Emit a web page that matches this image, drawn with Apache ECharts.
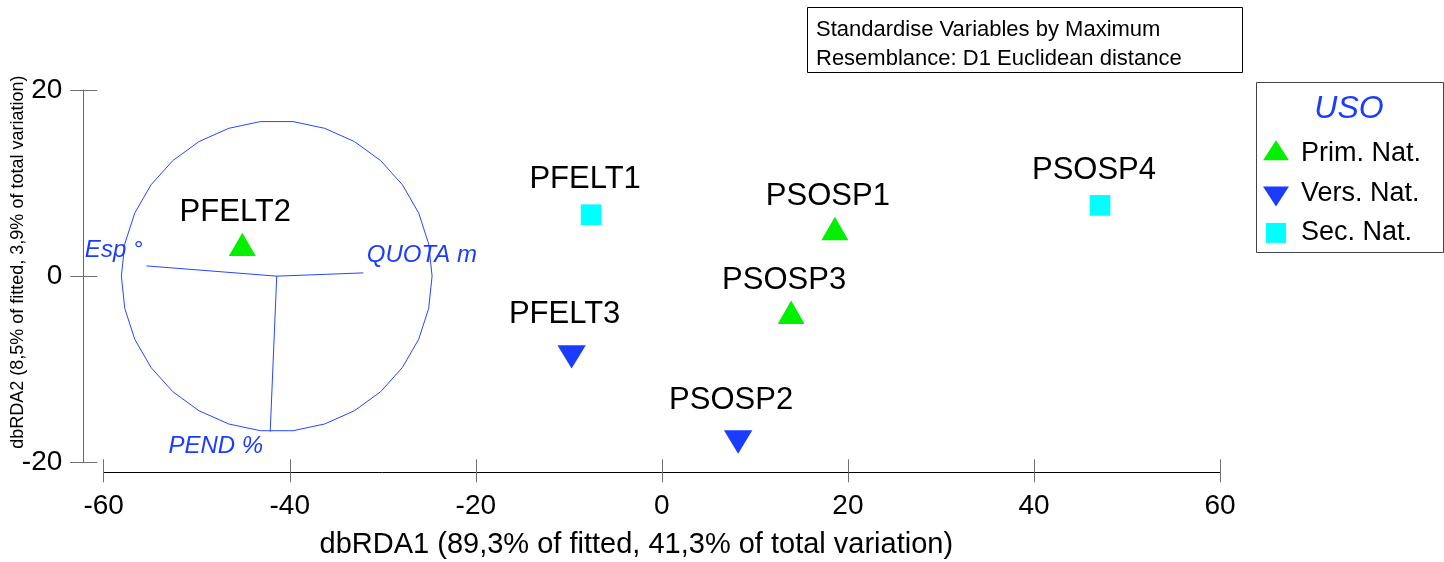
<!DOCTYPE html>
<html>
<head>
<meta charset="utf-8">
<title>dbRDA</title>
<script src="https://cdn.jsdelivr.net/npm/echarts@6/dist/echarts.min.js"></script>
<style>
  html, body { margin: 0; padding: 0; background: #ffffff; }
  #chart { width: 1444px; height: 562px; }
</style>
</head>
<body>
<div id="chart"></div>
<script>
// ---- Site scores on dbRDA1 / dbRDA2, one group per land use (USO) ----
const primNatSites = ['PFELT2', 'PSOSP1', 'PSOSP3'];
const primNatX = [-45.1, 18.6, 13.9];
const primNatY = [3.0, 4.7, -4.3];

const versNatSites = ['PFELT3', 'PSOSP2'];
const versNatX = [-9.7, 8.2];
const versNatY = [-8.25, -17.4];

const secNatSites = ['PFELT1', 'PSOSP4'];
const secNatX = [-7.6, 47.1];
const secNatY = [6.6, 7.6];

// ---- Predictor vectors (biplot), drawn from the centre of the reference circle ----
const vectorNames = ['Esp °', 'QUOTA m', 'PEND %'];
const vectorDX = [-14.0, 9.3, -0.7];
const vectorDY = [1.1, 0.35, -16.7];
const circleCenter = [-41.4, 0];
const circleRadius = 16.7;

// ---- Axes ----
const xRange = [-60, 60];
const yRange = [-20, 20];
const tickStep = 20;
const xTitle = 'dbRDA1 (89,3% of fitted, 41,3% of total variation)';
const yTitle = 'dbRDA2 (8,5% of fitted, 3,9% of total variation)';
const groupNames = ['Prim. Nat.', 'Vers. Nat.', 'Sec. Nat.'];
const legendTitle = 'USO';
const infoLines = ['Standardise Variables by Maximum', 'Resemblance: D1 Euclidean distance'];

// ---- Styling ----
const FONT = '"Liberation Sans", Arial, sans-serif';
const GREEN = '#00f000';
const BLUE = '#1a3cff';
const CYAN = '#00ffff';
const VEC_BLUE = '#2448ff';
const TICK_GREY = '#707070';

// Symbol paths padded so that the triangle centroid sits in the middle of the box
const UP_PATH = 'path://M13,0L26,20L0,20Z M0,26.67L0,26.67';
const DOWN_PATH = 'path://M0,6.67L26,6.67L13,26.67Z M0,0L0,0';
const SQUARE_PATH = 'path://M3,3.33h20v20h-20z M0,0L0,0 M26,26.67L26,26.67';

// Label placement for the vector names, relative to each arrow tip (pixels)
const vectorLabelLayout = [
  { dx: -4, dy: -16, align: 'right' },
  { dx: 3.5, dy: -17.5, align: 'left' },
  { dx: -7, dy: 14.5, align: 'right' }
];

function pointsOf(names, xs, ys) {
  return names.map((n, i) => ({ name: n, value: [xs[i], ys[i]] }));
}

function pointLabel(offset) {
  return {
    show: true,
    position: 'top',
    distance: 5,
    offset: offset,
    formatter: '{b}',
    color: '#000',
    fontSize: 31,
    fontFamily: FONT
  };
}

const chart = echarts.init(document.getElementById('chart'), null, { renderer: 'canvas' });

const axisTickStyle = { color: TICK_GREY, width: 1 };

const option = {
  animation: false,
  backgroundColor: '#ffffff',
  grid: {
    left: 103.7, right: 224, top: 90, bottom: 99.7,
    containLabel: false, outerBoundsMode: 'none'
  },
  xAxis: [
    {
      type: 'value', min: xRange[0], max: xRange[1], interval: tickStep,
      position: 'bottom', offset: 10,
      axisLine: { show: true, onZero: false, lineStyle: { color: '#000', width: 1 } },
      axisTick: { show: true, inside: false, length: 10, lineStyle: axisTickStyle },
      axisLabel: { color: '#000', fontSize: 28, fontFamily: FONT, margin: 20 },
      splitLine: { show: false },
      name: xTitle, nameLocation: 'middle', nameGap: 58, nameMoveOverlap: false,
      nameTextStyle: { color: '#000', fontSize: 29, fontFamily: FONT, padding: [0, 51, 0, 0] }
    },
    {
      type: 'value', min: xRange[0], max: xRange[1], interval: tickStep,
      position: 'bottom', offset: 10,
      axisLine: { show: false, onZero: false },
      axisTick: { show: true, inside: true, length: 13, lineStyle: axisTickStyle },
      axisLabel: { show: false },
      splitLine: { show: false }
    }
  ],
  yAxis: [
    {
      type: 'value', min: yRange[0], max: yRange[1], interval: tickStep,
      position: 'left', offset: 20.4,
      axisLine: { show: true, onZero: false, lineStyle: { color: '#666', width: 1 } },
      axisTick: { show: true, inside: false, length: 13, lineStyle: axisTickStyle },
      axisLabel: { color: '#000', fontSize: 28, fontFamily: FONT, margin: 21 },
      splitLine: { show: false },
      name: yTitle, nameLocation: 'middle', nameGap: 56, nameRotate: 90, nameMoveOverlap: false,
      nameTextStyle: { color: '#000', fontSize: 18, fontFamily: FONT, padding: [0, 0, 0, 28] }
    },
    {
      type: 'value', min: yRange[0], max: yRange[1], interval: tickStep,
      position: 'left', offset: 20.4,
      axisLine: { show: false, onZero: false },
      axisTick: { show: true, inside: true, length: 14, lineStyle: axisTickStyle },
      axisLabel: { show: false },
      splitLine: { show: false }
    }
  ],
  legend: {
    orient: 'vertical',
    left: 1258, top: 135, padding: 5,
    itemWidth: 26, itemHeight: 26.67, itemGap: 12.7,
    selectedMode: false,
    data: [
      { name: groupNames[0], icon: UP_PATH },
      { name: groupNames[1], icon: DOWN_PATH },
      { name: groupNames[2], icon: SQUARE_PATH }
    ],
    textStyle: { color: '#000', fontSize: 27, lineHeight: 27, fontFamily: FONT, padding: [0, 0, 0, 7] }
  },
  graphic: [
    {
      type: 'rect', silent: true,
      shape: { x: 807.5, y: 7.5, width: 435, height: 65 },
      style: { fill: '#fff', stroke: '#000', lineWidth: 1 }
    },
    {
      type: 'text', silent: true, x: 816, y: 30,
      style: { text: infoLines[0], font: '22px ' + FONT, fill: '#000', textVerticalAlign: 'middle' }
    },
    {
      type: 'text', silent: true, x: 816, y: 59,
      style: { text: infoLines[1], font: '22px ' + FONT, fill: '#000', textVerticalAlign: 'middle' }
    },
    {
      type: 'rect', silent: true, z: -1,
      shape: { x: 1256.5, y: 82.5, width: 187, height: 170 },
      style: { fill: '#fff', stroke: '#444', lineWidth: 1 }
    },
    {
      type: 'text', silent: true, x: 1349, y: 109,
      style: { text: legendTitle, font: 'italic 32px ' + FONT, fill: BLUE, textAlign: 'center', textVerticalAlign: 'middle' }
    }
  ],
  series: [
    {
      // reference circle for the predictor vectors
      type: 'custom', name: 'circle', coordinateSystem: 'cartesian2d',
      silent: true, clip: false, z: 1,
      data: [[circleCenter[0], circleCenter[1], circleRadius]],
      encode: { x: 0, y: 1 },
      renderItem: function (params, api) {
        const c = api.coord([api.value(0), api.value(1)]);
        const rx = api.size([api.value(2), 0])[0];
        const ry = api.size([0, api.value(2)])[1];
        const n = 30;
        const pts = [];
        for (let i = 0; i < n; i++) {
          const a = (i / n) * Math.PI * 2;
          pts.push([c[0] + rx * Math.cos(a), c[1] + ry * Math.sin(a)]);
        }
        return {
          type: 'polygon',
          shape: { points: pts },
          style: { fill: 'none', stroke: VEC_BLUE, lineWidth: 1 }
        };
      }
    },
    {
      // predictor vectors and their names
      type: 'custom', name: 'vectors', coordinateSystem: 'cartesian2d',
      silent: true, clip: false, z: 2,
      data: vectorNames.map((n, i) => [
        circleCenter[0], circleCenter[1],
        circleCenter[0] + vectorDX[i], circleCenter[1] + vectorDY[i]
      ]),
      encode: { x: [0, 2], y: [1, 3] },
      renderItem: function (params, api) {
        const i = params.dataIndex;
        const p0 = api.coord([api.value(0), api.value(1)]);
        const p1 = api.coord([api.value(2), api.value(3)]);
        const lay = vectorLabelLayout[i];
        return {
          type: 'group',
          children: [
            {
              type: 'line',
              shape: { x1: p0[0], y1: p0[1], x2: p1[0], y2: p1[1] },
              style: { stroke: VEC_BLUE, lineWidth: 1 }
            },
            {
              type: 'text',
              x: p1[0] + lay.dx, y: p1[1] + lay.dy,
              style: {
                text: vectorNames[i],
                font: 'italic 24px ' + FONT,
                fill: BLUE,
                textAlign: lay.align,
                textVerticalAlign: 'middle'
              }
            }
          ]
        };
      }
    },
    {
      type: 'scatter', name: groupNames[0], z: 5,
      data: pointsOf(primNatSites, primNatX, primNatY),
      symbol: UP_PATH, symbolSize: [27, 31.2],
      itemStyle: { color: GREEN, opacity: 1 },
      label: pointLabel([-7, 0]),
      emphasis: { disabled: true }
    },
    {
      type: 'scatter', name: groupNames[1], z: 5,
      data: pointsOf(versNatSites, versNatX, versNatY),
      symbol: DOWN_PATH, symbolSize: [28.4, 31.1],
      itemStyle: { color: BLUE, opacity: 1 },
      label: pointLabel([-7, -2]),
      emphasis: { disabled: true }
    },
    {
      type: 'scatter', name: groupNames[2], z: 5,
      data: pointsOf(secNatSites, secNatX, secNatY),
      symbol: 'rect', symbolSize: 20.7,
      itemStyle: { color: CYAN, opacity: 1 },
      label: pointLabel([-6, -4]),
      emphasis: { disabled: true }
    }
  ]
};

chart.setOption(option);
</script>
</body>
</html>
